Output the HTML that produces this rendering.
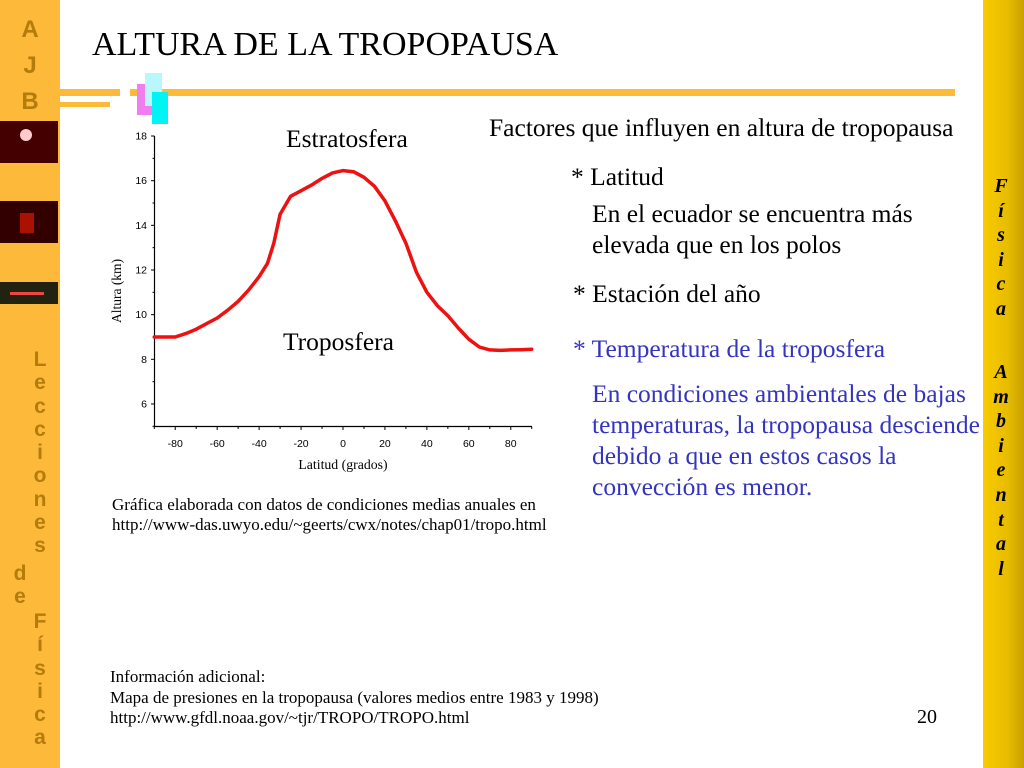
<!DOCTYPE html>
<html><head><meta charset="utf-8"><style>
body{margin:0;width:1024px;height:768px;position:relative;background:#fff;overflow:hidden;font-family:"Liberation Serif",serif;}
.a{position:absolute;}
.ls{left:0;top:0;width:60px;height:768px;background:#FDB93A;}
.lt{color:#B47C0C;font-family:"Liberation Sans",sans-serif;font-weight:700;font-size:21px;text-align:center;width:60px;}
.rs{left:983px;top:0;width:41px;height:768px;background:linear-gradient(90deg,#F8CC00,#E8BC00 60%,#C9A100);}
.rt{left:983px;width:36px;text-align:center;font-style:italic;font-weight:bold;font-size:20px;color:#000;line-height:24.6px;}
.t{font-size:25.5px;color:#000;white-space:nowrap;}
.b{color:#3434C0;}
.s{font-size:17px;white-space:nowrap;}
</style></head><body>
<div class="a ls"></div>
<div class="a lt" style="top:12px;line-height:36px;font-size:24px">A<br>J<br>B</div>
<div class="a" style="left:0;top:121px;width:58px;height:42px;background:#400"><div class="a" style="left:20px;top:8px;width:12px;height:12px;border-radius:50%;background:#fcc"></div></div>
<div class="a" style="left:0;top:201px;width:58px;height:42px;background:#300"><div class="a" style="left:20px;top:12px;width:14px;height:20px;background:#a10"></div></div>
<div class="a" style="left:0;top:282px;width:58px;height:22px;background:#221"><div class="a" style="left:10px;top:10px;width:34px;height:3px;background:#e44"></div></div>
<div class="a lt" style="top:348px;line-height:23.3px;left:10px;width:60px">L<br>e<br>c<br>c<br>i<br>o<br>n<br>e<br>s</div>
<div class="a lt" style="top:562px;left:-10px;line-height:23px">d<br>e</div>
<div class="a lt" style="top:610px;left:10px;line-height:23.3px">F<br>í<br>s<br>i<br>c<br>a</div>
<div class="a rs"></div>
<div class="a rt" style="top:174px">F<br>í<br>s<br>i<br>c<br>a</div>
<div class="a rt" style="top:360px">A<br>m<br>b<br>i<br>e<br>n<br>t<br>a<br>l</div>
<div class="a" style="left:60px;top:89px;width:60px;height:7px;background:#FDB93A"></div>
<div class="a" style="left:130px;top:89px;width:825px;height:7px;background:#FDB93A"></div>
<div class="a" style="left:60px;top:102px;width:50px;height:5px;background:#FDB93A"></div>
<div class="a" style="left:137px;top:84px;width:15px;height:31px;background:#F07EF0"></div>
<div class="a" style="left:145px;top:73px;width:17px;height:33px;background:#B8F8FC"></div>
<div class="a" style="left:152px;top:92px;width:16px;height:32px;background:#00F4F4"></div>
<div class="a t" style="left:92px;top:26px;font-size:34px">ALTURA DE LA TROPOPAUSA</div>
<svg class="a" style="left:0;top:0" width="1024" height="768" id="chart"></svg>
<div class="a t" style="left:286px;top:124px">Estratosfera</div>
<div class="a t" style="left:283px;top:327px">Troposfera</div>
<div class="a t" style="left:489px;top:113px">Factores que influyen en altura de tropopausa</div>
<div class="a t" style="left:571px;top:162px">* Latitud</div>
<div class="a t" style="left:592px;top:198px;line-height:31px">En el ecuador se encuentra más<br>elevada que en los polos</div>
<div class="a t" style="left:573px;top:279px">* Estación del año</div>
<div class="a t b" style="left:573px;top:334px">* Temperatura de la troposfera</div>
<div class="a t b" style="left:592px;top:378px;line-height:31px">En condiciones ambientales de bajas<br>temperaturas, la tropopausa desciende<br>debido a que en estos casos la<br>convección es menor.</div>
<div class="a s" style="left:112px;top:495px;line-height:20px">Gráfica elaborada con datos de condiciones medias anuales en<br>http://www-das.uwyo.edu/~geerts/cwx/notes/chap01/tropo.html</div>
<div class="a s" style="left:110px;top:667px;line-height:20.5px">Información adicional:<br>Mapa de presiones en la tropopausa (valores medios entre 1983 y 1998)<br>http://www.gfdl.noaa.gov/~tjr/TROPO/TROPO.html</div>
<div class="a" style="left:917px;top:706px;font-size:20px">20</div>
<script>
const latitudes=[-90,-85,-80,-75,-70,-65,-60,-55,-50,-45,-40,-36,-33,-30,-25,-20,-15,-10,-5,0,5,10,15,20,25,30,35,40,45,50,55,60,65,70,75,80,85,90];
const heights=[9.0,9.0,9.0,9.15,9.35,9.6,9.85,10.2,10.6,11.1,11.7,12.3,13.2,14.5,15.3,15.55,15.8,16.1,16.35,16.45,16.4,16.15,15.75,15.1,14.2,13.2,11.9,11.0,10.4,9.95,9.4,8.9,8.55,8.42,8.4,8.42,8.43,8.45];
const xTicks=[-80,-60,-40,-20,0,20,40,60,80];
const yTicks=[6,8,10,12,14,16,18];
const NS='http://www.w3.org/2000/svg';
const svg=document.getElementById('chart');
const X=v=>343+v*2.097, Y=v=>426.3-(v-5)*22.33;
function el(t,a){const e=document.createElementNS(NS,t);for(const k in a)e.setAttribute(k,a[k]);svg.appendChild(e);return e;}
const ya=el('line',{x1:154.5,y1:136,x2:154.5,y2:426.5,stroke:'#000','stroke-width':1.2});


const xa=el('line',{x1:154,y1:426.5,x2:532,y2:426.5,stroke:'#000','stroke-width':1.2});


for(let v=5;v<=18;v++){el('line',{x1:154.5,x2:v%2===0?151:152.5,y1:Y(v),y2:Y(v),stroke:'#000'});}
yTicks.forEach(v=>{const t=el('text',{x:147,y:Y(v)+3.5,'font-size':10.5,'text-anchor':'end','font-family':'Liberation Sans, sans-serif'});t.textContent=v;

});
for(let v=-90;v<=90;v+=10){el('line',{x1:X(v),x2:X(v),y1:426.5,y2:v%20===0?430:429,stroke:'#000'});}
xTicks.forEach(v=>{const t=el('text',{x:X(v),y:447,'font-size':10.5,'text-anchor':'middle','font-family':'Liberation Sans, sans-serif'});t.textContent=v;

});
const xt=el('text',{x:343,y:469,'font-size':13.8,'text-anchor':'middle','font-family':'Liberation Serif, serif'});xt.textContent='Latitud (grados)';


const yt=el('text',{x:0,y:0,'font-size':13.5,'text-anchor':'middle','font-family':'Liberation Serif, serif',transform:'translate(121,291) rotate(-90)'});yt.textContent='Altura (km)';


const d=latitudes.map((v,i)=>(i?'L':'M')+X(v).toFixed(1)+' '+Y(heights[i]).toFixed(1)).join(' ');
const p=el('path',{d:d,fill:'none',stroke:'#EE1111','stroke-width':3.5,'stroke-linejoin':'round','stroke-linecap':'round'});


</script>
</body></html>
